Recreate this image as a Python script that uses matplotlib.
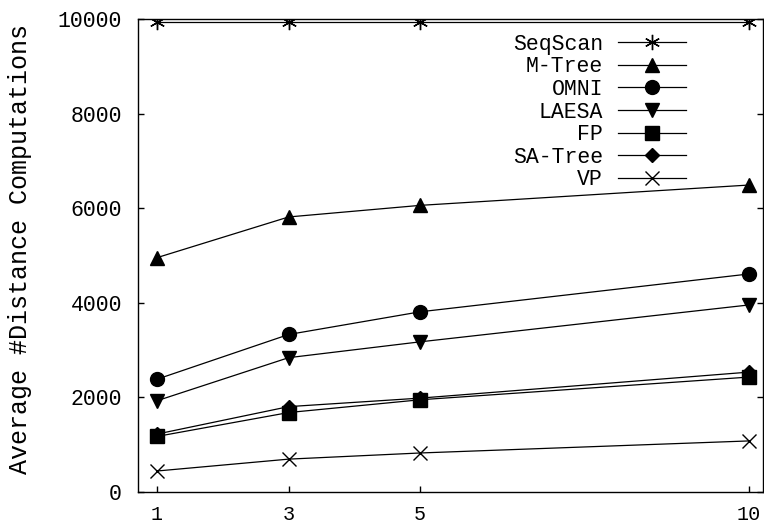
import matplotlib
matplotlib.use("Agg")
from matplotlib import pyplot as plt

plt.rcParams['font.family'] = ['Liberation Mono', 'DejaVu Sans Mono']
plt.rcParams['font.size'] = 15.5

x = [1, 3, 5, 10]
seqscan = [9940, 9940, 9940, 9940]
mtree = [4955, 5815, 6060, 6490]
omni = [2385, 3330, 3810, 4610]
laesa = [1930, 2840, 3175, 3955]
fp = [1175, 1680, 1950, 2430]
satree = [1225, 1805, 1985, 2535]
vp = [444, 695, 825, 1080]

names = ['SeqScan', 'M-Tree', 'OMNI', 'LAESA', 'FP', 'SA-Tree', 'VP']
series = [seqscan, mtree, omni, laesa, fp, satree, vp]
markers = [(6, 2, 0), '^', 'o', 'v', 's', 'D', 'x']
sizes = [11, 10, 10, 10, 10, 7, 10]

fig = plt.figure(figsize=(7.64, 5.25), dpi=100)
ax = fig.add_axes([138 / 764, 33 / 525, 625 / 764, 473 / 525])

for name, ys, m, s in zip(names, series, markers, sizes):
    ax.plot(x, ys, color='black', lw=0.9, marker=m, ms=s,
            markeredgewidth=1, label=name)

ax.set_xlim(0.71, 10.21)
ax.set_ylim(0, 10000)
ax.set_xticks(x)
ax.set_yticks([0, 2000, 4000, 6000, 8000, 10000])
ax.tick_params(direction='in', length=4.5, width=1, top=True, right=True)
ax.tick_params(axis='y', pad=11.5)
ax.tick_params(axis='x', pad=9, labelsize=14.5)
for s in ax.spines.values():
    s.set_linewidth(1)
ax.set_ylabel('Average #Distance Computations', fontsize=18)
ax.yaxis.set_label_coords(-0.169, 0.514)

ax.legend(loc='upper right', bbox_to_anchor=(0.877, 0.969), frameon=False,
          markerfirst=False, handlelength=3.16, handletextpad=0.7,
          labelspacing=0.075, borderpad=0, borderaxespad=0)

fig.savefig('out.png', dpi=100)
